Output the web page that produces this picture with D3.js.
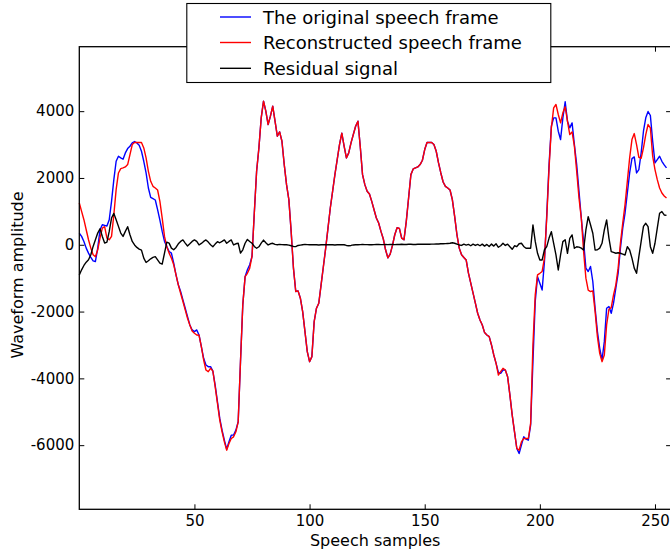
<!DOCTYPE html>
<html>
<head>
<meta charset="utf-8">
<script src="https://cdn.jsdelivr.net/npm/d3@7"></script>
<style>
  html, body { margin: 0; padding: 0; background: #fff; }
  svg { display: block; font-family: "DejaVu Sans", sans-serif; }
</style>
</head>
<body>
<svg id="chart" width="670" height="551"></svg>
<script>
// ---- data ----
const original = [
  345, 250, 100, -100, -250, -380, -480, -500, -100, 450,
  600, 580, 560, 750, 1300, 1950, 2500, 2650, 2600, 2560,
  2750, 2880, 2950, 3050, 3090, 3050, 2980, 2800, 2500, 2150,
  1700, 1420, 1380, 1340, 1050, 740, 400, 100, -50, -200,
  -250, -550, -900, -1200, -1400, -1650, -1900, -2150, -2400, -2550,
  -2600, -2550, -2700, -3050, -3400, -3600, -3650, -3650, -3780, -4200,
  -4700, -5200, -5550, -5850, -6120, -5900, -5700, -5700, -5550, -5300,
  -3500, -1800, -955, -750, -600, -350, 950, 2200, 2900, 3800,
  4300, 4000, 3600, 3850, 4150, 3700, 3250, 3380, 3100, 2400,
  1800, 1350, 400, -700, -1400, -1380, -1600, -2000, -2600, -3200,
  -3500, -3350, -2300, -1900, -1750, -1200, -650, -100, 500, 1100,
  1600, 2100, 2550, 3000, 3340, 2950, 2600, 2750, 3050, 3300,
  3550, 3700, 2950, 2100, 1800, 1600, 1520, 1300, 1050, 800,
  650, 400, 180, -150, -390, -280, -20, 300, 510, 490,
  200, 150, 700, 1400, 2100, 2270, 2300, 2330, 2400, 2530,
  2850, 3060, 3060, 3060, 3000, 2800, 2450, 2150, 1880, 1750,
  1700, 1640, 1350, 850, 300, -100, -300, -380, -455, -850,
  -1150, -1450, -1750, -2050, -2250, -2400, -2630, -2700, -2750, -3000,
  -3300, -3550, -3820, -3850, -3750, -3750, -3950, -4500, -5100, -5600,
  -6100, -6250, -6000, -5750, -5820, -5850, -5400, -3500, -1700, -955,
  -1150, -1354, -500, 900, 2400, 3550, 3800, 3800, 3400, 3150,
  3800, 4280, 3700, 3500, 3650, 3000, 2400, 1600, 800, 100,
  -700, -800, -650, -1100, -1900, -2600, -3100, -3450, -2900, -1900,
  -1850, -2050, -1750, -1300, -850, -100, 500, 950, 1550, 2150,
  2580, 2630, 2150, 2250, 2750, 3400, 3800, 3990, 3870, 3100,
  2450, 2550, 2650, 2500, 2390, 2300
];
const reconstructed = [
  1250, 1000, 750, 450, 150, -100, -300, -360, -150, 200,
  500, 540, 200, 150, 250, 900, 1650, 2150, 2280, 2300,
  2330, 2400, 2700, 3000, 3060, 3060, 3060, 3060, 2900, 2600,
  2200, 1900, 1750, 1700, 1640, 1300, 800, 250, -57, -250,
  -400, -600, -900, -1200, -1450, -1700, -1950, -2200, -2400, -2580,
  -2650, -2700, -2710, -3050, -3450, -3750, -3800, -3700, -3780, -4250,
  -4750, -5250, -5600, -5900, -6150, -5950, -5800, -5750, -5600, -5300,
  -3500, -1800, -955, -855, -700, -350, 950, 2200, 2900, 3800,
  4300, 4000, 3600, 3850, 4150, 3700, 3250, 3380, 3100, 2400,
  1800, 1350, 400, -700, -1400, -1380, -1600, -2000, -2600, -3200,
  -3500, -3350, -2300, -1900, -1750, -1200, -650, -100, 500, 1100,
  1600, 2100, 2550, 3000, 3340, 2950, 2600, 2750, 3050, 3300,
  3550, 3700, 2950, 2100, 1800, 1600, 1520, 1300, 1050, 800,
  650, 400, 180, -150, -390, -280, -20, 300, 510, 490,
  200, 150, 700, 1400, 2100, 2270, 2300, 2330, 2400, 2530,
  2850, 3060, 3060, 3060, 3000, 2800, 2450, 2150, 1880, 1750,
  1700, 1640, 1350, 850, 300, -100, -300, -380, -455, -850,
  -1150, -1450, -1750, -2050, -2250, -2400, -2630, -2700, -2750, -3000,
  -3300, -3550, -3900, -3800, -3700, -3750, -3950, -4500, -5100, -5600,
  -6100, -6150, -5900, -5800, -5800, -5800, -5350, -3000, -1500, -900,
  -855, -800, -400, 800, 2300, 3500, 4100, 4200, 3900, 3650,
  3950, 4130, 3700, 3300, 3380, 2950, 2200, 1400, 800, -200,
  -1000, -1360, -1400, -1380, -2000, -2750, -3250, -3500, -3300, -2400,
  -1930, -1880, -1500, -1200, -700, 50, 650, 1200, 1900, 2600,
  3150, 3330, 3000, 2620, 2590, 2900, 3300, 3600, 3500, 2650,
  2250, 1950, 1700, 1550, 1460, 1400
];
const residual = [
  -905, -750, -620, -520, -450, -300, -50, 150, 350, 480,
  250, 50, 80, 400, 800, 940, 750, 550, 350, 250,
  400, 540, 300, 100, -6, -80, -130, -160, -400, -530,
  -480, -420, -380, -356, -450, -550, -580, -250, 80, 50,
  -100, -150, -80, 30, 100, 144, 50, -36, 30, 100,
  144, 100, -6, 40, 100, 144, 80, 0, -57, 20,
  93, 60, 100, 144, 45, 100, 144, -6, 30, 45,
  -250, -150, 45, 160, 100, 45, -50, -105, -60, 50,
  140, 60, -6, 30, 45, 10, 0, 10, 5, 0,
  0, -10, -30, -50, -57, -20, -10, 0, 10, 5,
  0, 0, 5, 0, -5, 0, 5, 0, 0, 0,
  0, -5, 0, 0, 5, 0, -20, -30, -20, -5,
  0, 0, 5, 10, 5, 5, 0, 0, 5, 10,
  10, 5, 5, 10, 5, 10, 10, 5, 10, 10,
  15, 10, 10, 15, 15, 10, 10, 15, 15, 15,
  15, 20, 15, 20, 20, 25, 25, 30, 30, 35,
  40, 45, 60, 45, 20, -6, -20, 20, -10, 10,
  -30, 20, -20, 10, -30, 20, -40, 10, -50, 20,
  -40, 30, -75, -30, 45, -20, 20, -60, -135, -30,
  -57, 30, 45, -50, -105, -105, -105, 593, 100, -255,
  -455, -455, -150, -57, 200, 393, 45, -300, -755, -300,
  93, 150, -255, 194, 294, -105, -60, -70, -100, -156,
  443, 843, 600, 344, -156, -150, -100, 45, 443, 743,
  200, -206, -230, -255, -240, -255, -280, -306, -57, -156,
  -400, -700, -855, -356, 100, 550, 643, 543, -57, -255,
  45, 500, 944, 993, 893, 880
];
const xTicks = [50, 100, 150, 200, 250];
const yTicks = [-6000, -4000, -2000, 0, 2000, 4000];
const seriesNames = ["The original speech frame", "Reconstructed speech frame", "Residual signal"];
const seriesColors = ["#0000ff", "#ff0000", "#000000"];
const xLabel = "Speech samples";
const yLabel = "Waveform amplitude";

// ---- layout ----
const L = 79.3, R = 671.1, T = 46.7, B = 509.3;
const svg = d3.select("#chart");
const x = d3.scaleLinear().domain([0, 257]).range([L, R]);
const y = d3.scaleLinear().domain([-7920, 5930]).range([B, T]);

const plot = svg.append("g");
const series = [original, reconstructed, residual];
const line = d3.line().x((d, i) => x(i)).y(d => y(d));
series.forEach((s, k) => {
  plot.append("path")
    .datum(s)
    .attr("fill", "none")
    .attr("stroke", seriesColors[k])
    .attr("stroke-width", 1.4)
    .attr("stroke-linejoin", "round")
    .attr("d", line);
});

// axes: ticks inward on all four sides
const tickLen = 5;
const fmt = d => String(d);
const axB = d3.axisBottom(x).tickValues(xTicks).tickSize(-tickLen).tickPadding(6).tickFormat(fmt);
const axT = d3.axisTop(x).tickValues(xTicks).tickSize(-tickLen).tickFormat("");
const axL = d3.axisLeft(y).tickValues(yTicks).tickSize(-tickLen).tickPadding(5).tickFormat(fmt);
const axR = d3.axisRight(y).tickValues(yTicks).tickSize(-tickLen).tickFormat("");

function style(g) {
  g.select(".domain").remove();
  g.selectAll(".tick line").attr("stroke", "#000").attr("stroke-width", 1);
  g.selectAll(".tick text").attr("fill", "#000").style("font-size", "15px").style("font-family", "DejaVu Sans");
}
svg.append("g").attr("transform", `translate(0,${B})`).call(axB).call(style);
svg.append("g").attr("transform", `translate(0,${T})`).call(axT).call(style);
svg.append("g").attr("transform", `translate(${L},0)`).call(axL).call(style);
svg.append("g").attr("transform", `translate(${R},0)`).call(axR).call(style);

// frame
svg.append("rect").attr("x", L).attr("y", T).attr("width", R - L).attr("height", B - T)
  .attr("fill", "none").attr("stroke", "#000").attr("stroke-width", 1.3);

// labels
svg.append("text").attr("x", (L + R) / 2).attr("y", 546).attr("text-anchor", "middle")
  .style("font-size", "16px").text(xLabel);
svg.append("text").attr("transform", `translate(23,${(T + B) / 2 - 3}) rotate(-90)`)
  .attr("text-anchor", "middle").style("font-size", "16px").text(yLabel);

// legend
const lg = svg.append("g");
lg.append("rect").attr("x", 186.8).attr("y", 3.5).attr("width", 364).attr("height", 79)
  .attr("fill", "#fff").attr("stroke", "#000").attr("stroke-width", 1.1);
const rowsY = [17, 42.5, 68.3];
seriesNames.forEach((name, k) => {
  lg.append("line").attr("x1", 220).attr("x2", 251).attr("y1", rowsY[k]).attr("y2", rowsY[k])
    .attr("stroke", seriesColors[k]).attr("stroke-width", 1.4);
  lg.append("text").attr("x", 263).attr("y", rowsY[k] + 6.5)
    .style("font-size", "18px").attr("fill", "#000").text(name);
});
</script>
</body>
</html>
